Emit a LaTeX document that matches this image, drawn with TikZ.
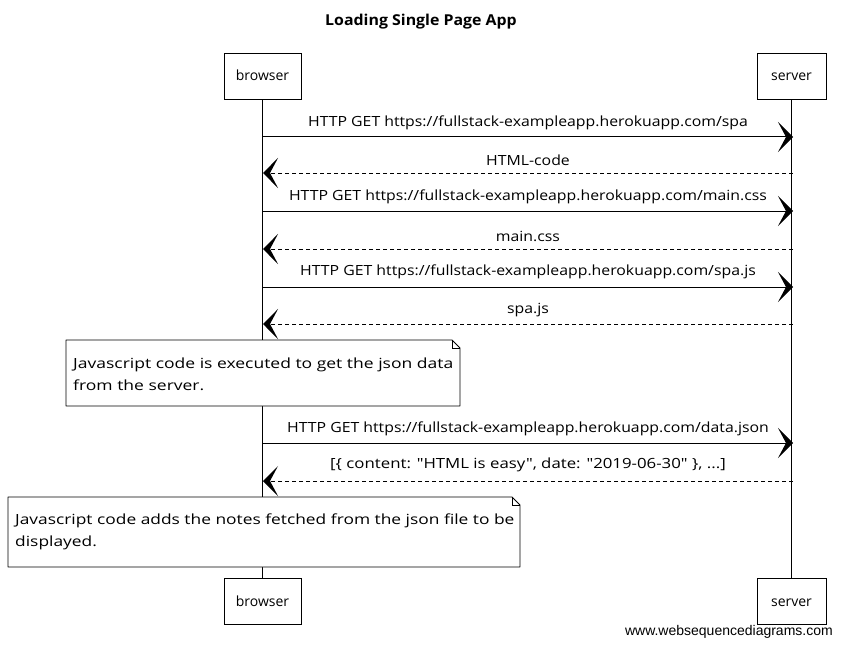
\documentclass[tikz,border=0pt]{standalone}
\usepackage{graphicx}
\usepackage{fontspec}
\setmainfont{Open Sans}[Ligatures=TeXOff]
\newfontfamily\wsdfont{Liberation Sans}
\usetikzlibrary{arrows.meta}
\newcommand\widen[2]{\scalebox{#1}[1]{#2}}
\begin{document}
\begin{tikzpicture}[x=1pt,y=-1pt,
  lbl/.style={font=\fontsize{14}{16}\selectfont, inner sep=0pt, anchor=base},
  actor/.style={draw, line width=0.8pt, fill=white, minimum height=46pt, inner sep=0pt, text height=12pt, text depth=2pt, font=\fontsize{14}{16}\selectfont},
  lifeline/.style={line width=0.8pt},
  msg/.style={line width=1pt, -{Stealth[length=15pt,width=30pt,inset=8pt]}},
  reply/.style={msg, dash pattern=on 4pt off 3pt},
  notebox/.style={draw, line width=0.8pt, fill=white, line join=round},
  notetext/.style={font=\fontsize{14}{22}\selectfont, inner sep=0pt, anchor=north west, align=left},
]
\useasboundingbox (0,0) rectangle (842,647);
\fill[white] (0,0) rectangle (842,647);

\node[font=\fontsize{15}{17}\selectfont\bfseries, inner sep=0pt] (title) at (421,22) {\widen{1.06}{Loading Single Page App}};

% actors
\node[actor, minimum width=77pt] (bt) at (262.5,76) {browser};
\node[actor, minimum width=69pt] (st) at (791.5,76) {server};
\node[actor, minimum width=77pt] (bb) at (262.5,601) {browser};
\node[actor, minimum width=69pt] (sb) at (791.5,601) {server};

\draw[lifeline] (bt.south) -- (bb.north);
\draw[lifeline] (st.south) -- (sb.north);

% message end points on lifelines
\foreach \i/\y in {1/137,2/173,3/211,4/249,5/287,6/324,7/443,8/481}{
  \coordinate (b\i) at (263,\y);
  \coordinate (s\i) at (793,\y);
}

\draw[msg] (b1) -- node[lbl, above=7pt] (m1) {\widen{1.13}{HTTP GET https://fullstack-exampleapp.herokuapp.com/spa}} (s1);
\draw[reply] (s2) -- node[lbl, above=7pt] (m2) {\widen{1.13}{HTML-code}} (b2);
\draw[msg] (b3) -- node[lbl, above=7pt] (m3) {\widen{1.13}{HTTP GET https://fullstack-exampleapp.herokuapp.com/main.css}} (s3);
\draw[reply] (s4) -- node[lbl, above=7pt] (m4) {\widen{1.13}{main.css}} (b4);
\draw[msg] (b5) -- node[lbl, above=8pt] (m5) {\widen{1.13}{HTTP GET https://fullstack-exampleapp.herokuapp.com/spa.js}} (s5);
\draw[reply] (s6) -- node[lbl, above=7pt] (m6) {\widen{1.13}{spa.js}} (b6);

% note 1
\draw[notebox] (66,340) -- (452,340) -- (460,348) -- (460,406) -- (66,406) -- cycle;
\draw[line width=0.8pt] (452,340) -- (452,348) -- (460,348);
\node[notetext] (n1) at (73,358) {\widen{1.25}{Javascript code is executed to get the json data}\\\widen{1.25}{from the server.}};

\draw[msg] (b7) -- node[lbl, above=7pt] (m7) {\widen{1.13}{HTTP GET https://fullstack-exampleapp.herokuapp.com/data.json}} (s7);
\draw[reply] (s8) -- node[lbl, above=9pt] (m8) {\widen{1.2}{[\{ content: "HTML is easy", date: "2019-06-30" \}, ...]}} (b8);

% note 2
\draw[notebox] (8,497) -- (512,497) -- (520,505) -- (520,567) -- (8,567) -- cycle;
\draw[line width=0.8pt] (512,497) -- (512,505) -- (520,505);
\node[notetext] (n2) at (15,514) {\widen{1.24}{Javascript code adds the notes fetched from the json file to be}\\\widen{1.24}{displayed.}};

\node[font=\wsdfont\fontsize{14}{16}\selectfont, inner sep=0pt, anchor=east] (wm) at (833,632) {www.websequencediagrams.com};
\end{tikzpicture}
\end{document}
